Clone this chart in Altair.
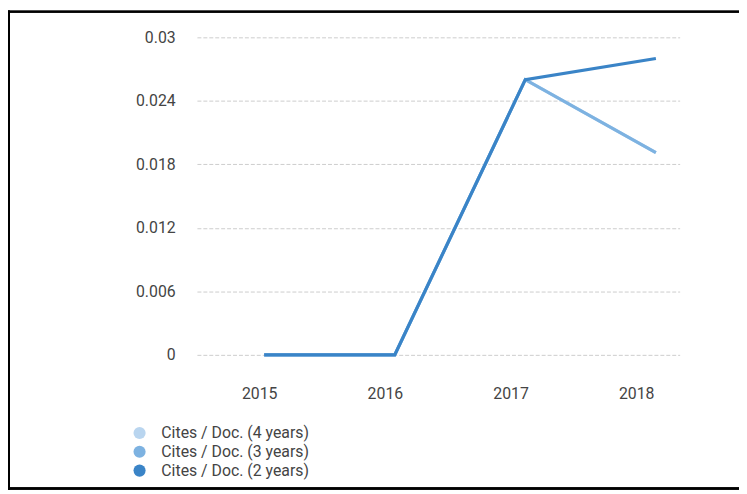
import altair as alt
import pandas as pd

years = [2015, 2016, 2017, 2018]
series_names = ["Cites / Doc. (4 years)", "Cites / Doc. (3 years)", "Cites / Doc. (2 years)"]
cites_4y = [0.0, 0.0, 0.026, 0.0191]
cites_3y = [0.0, 0.0, 0.026, 0.0191]
cites_2y = [0.0, 0.0, 0.026, 0.0280]
colors = ["#b9d5ef", "#7db2e1", "#3a84c7"]
y_ticks = [0, 0.006, 0.012, 0.018, 0.024, 0.03]

rows = []
for name, vals in zip(series_names, [cites_4y, cites_3y, cites_2y]):
    for i, (yr, v) in enumerate(zip(years, vals)):
        rows.append({"year": yr, "value": v, "series": name})
df = pd.DataFrame(rows)
df["order"] = df["series"].map({n: i for i, n in enumerate(series_names)})

legend_df = pd.DataFrame({"legend_series": series_names})
year_df = pd.DataFrame({"year": years})

W, H = 488, 321
FONT = "Roboto"
FS = 16

lines = alt.Chart(df).mark_line(strokeWidth=3.2).encode(
    x=alt.X("year:Q", scale=alt.Scale(domain=[2014.485, 2018.182], nice=False, zero=False), axis=None),
    y=alt.Y("value:Q", scale=alt.Scale(domain=[0, 0.03], nice=False),
            axis=alt.Axis(values=y_ticks, title=None, labelFont=FONT, labelFontSize=FS,
                          labelColor="#444444", labelPadding=22, ticks=False, domain=False,
                          grid=True, gridDash=[4, 2], gridColor="#cccccc", gridWidth=1,
                          labelExpr="datum.value == 0 ? '0' : format(datum.value, '.3~f')")),
    color=alt.Color("series:N", scale=alt.Scale(domain=series_names, range=colors), legend=None),
    order=alt.Order("order:Q"),
    detail="series:N",
)

# legend-only layer: invisible circles, legend shows filled circle symbols
legend_layer = alt.Chart(legend_df).mark_circle(size=0, opacity=1).encode(
    fill=alt.Fill("legend_series:N", scale=alt.Scale(domain=series_names, range=colors),
                  legend=alt.Legend(title=None, orient="none", legendX=-66, legendY=392,
                                    symbolType="circle", symbolSize=150, symbolOpacity=1,
                                    labelFont=FONT, labelFontSize=FS, labelColor="#444444",
                                    labelOffset=14, rowPadding=3, padding=0)),
)

xlabels = alt.Chart(year_df).mark_point(opacity=0).encode(
    x=alt.X("year:Q", scale=alt.Scale(domain=[2014.504, 2018.346], nice=False, zero=False),
            axis=alt.Axis(orient="bottom", values=years, format="d", title=None, labelFont=FONT,
                          labelFontSize=FS, labelColor="#444444", ticks=False, domain=False,
                          grid=False, labelPadding=31)),
)

frame_left = alt.Chart(year_df).mark_rule(color="black", strokeWidth=2).encode(
    x=alt.value(-190), y=alt.value(-27), y2=alt.value(457))
frame_top = alt.Chart(year_df).mark_rule(color="black", strokeWidth=2).encode(
    x=alt.value(-191), x2=alt.value(548), y=alt.value(-26))
frame_bottom = alt.Chart(year_df).mark_rule(color="black", strokeWidth=2).encode(
    x=alt.value(-191), x2=alt.value(548), y=alt.value(456))

chart = alt.layer(lines, xlabels, legend_layer, frame_left, frame_top, frame_bottom).resolve_scale(
    x="independent", color="independent", fill="independent"
).properties(
    width=W, height=H,
    padding={"left": 191, "top": 27, "right": 60, "bottom": 138},
    autosize=alt.AutoSizeParams(type="none"),
).configure(background="white").configure_view(stroke=None)

chart.save("out.html", embed_options={"renderer": "svg", "actions": False})
